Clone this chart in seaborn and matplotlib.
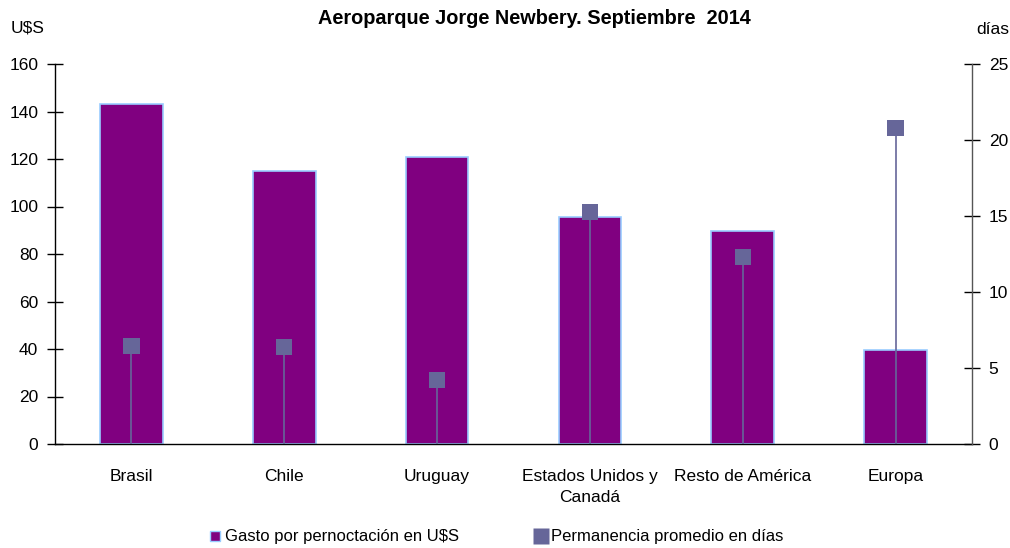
import matplotlib
matplotlib.use("Agg")
import matplotlib.pyplot as plt
import seaborn as sns
import pandas as pd
import numpy as np
from matplotlib.lines import Line2D

categories = ["Brasil", "Chile", "Uruguay", "Estados Unidos y\nCanadá", "Resto de América", "Europa"]
gasto = [143.0, 115.0, 121.0, 95.5, 89.5, 39.5]
permanencia = [6.45, 6.4, 4.2, 15.25, 12.3, 20.8]
title = "Aeroparque Jorge Newbery. Septiembre  2014"

sns.set_theme(style="white")
plt.rcParams['font.family'] = ['Liberation Sans', 'DejaVu Sans']
plt.rcParams['text.color'] = 'black'
plt.rcParams['xtick.color'] = 'black'
plt.rcParams['ytick.color'] = 'black'

df = pd.DataFrame({"cat": categories, "gasto": gasto, "perm": permanencia})

fig = plt.figure(figsize=(10.1, 5.48), dpi=100)
ax = fig.add_axes([55/1010, 1-444/548, (972-55)/1010, (444-64)/548])

sns.barplot(data=df, x="cat", y="gasto", ax=ax, color="#800080", width=0.41,
            edgecolor="#99CCFF", linewidth=1.2, saturation=1)
ax.set_ylim(0, 160)
ax.set_xlim(-0.5, len(categories)-0.5)
ax.set_yticks(np.arange(0, 161, 20))
ax.set_xlabel("")
ax.set_ylabel("")

ax2 = ax.twinx()
xs = np.arange(len(categories))
ax2.vlines(xs, 0, df["perm"], color="#666699", linewidth=1.2, zorder=2)
sns.scatterplot(x=xs, y=df["perm"], ax=ax2, marker="s", s=140, color="#666699",
                edgecolor="none", zorder=3, legend=False)
ax2.set_ylim(0, 25)
ax2.set_yticks(np.arange(0, 26, 5))
ax2.set_ylabel("")

ax.set_xticks(np.arange(-0.5, len(categories), 1.0))
ax.set_xticklabels([])
ax.set_xticks(xs, minor=True)
ax.set_xticklabels(categories, minor=True, fontsize=12.5, linespacing=1.5)
ax.tick_params(axis="x", which="minor", length=0, pad=18)
ax.tick_params(axis="x", which="major", direction="inout", length=10, width=1, color="black")
ax.tick_params(axis="y", direction="inout", length=12, width=1, labelsize=12.5, pad=6, color="black", left=True)
ax2.tick_params(axis="y", direction="inout", length=12, width=1, labelsize=12.5, pad=6, color="black", right=True)

for a in (ax, ax2):
    a.spines["top"].set_visible(False)
    for s in ("left", "right", "bottom"):
        a.spines[s].set_color("black")
        a.spines[s].set_linewidth(1)
ax.spines["right"].set_visible(False)
ax2.spines["left"].set_visible(False)
ax2.spines["bottom"].set_visible(False)
ax2.spines["right"].set_color("#555555")

fig.text(0.529, 1-18/548, title, ha="center", va="center", fontsize=14.3, fontweight="bold")
fig.text(28/1010, 1-28/548, "U$S", ha="center", va="center", fontsize=12.5)
fig.text(993/1010, 1-30/548, "días", ha="center", va="center", fontsize=12.5)

handles = [
    Line2D([], [], marker="s", linestyle="none", markersize=7, markerfacecolor="#800080",
           markeredgecolor="#99CCFF", markeredgewidth=1),
    Line2D([], [], marker="s", linestyle="none", markersize=11, markerfacecolor="#666699",
           markeredgecolor="none"),
]
fig.legend(handles, ["Gasto por pernoctación en U$S", "Permanencia promedio en días"],
           loc="center", bbox_to_anchor=(0.489, 1-537/548), ncol=2, frameon=False,
           fontsize=12, handletextpad=0.0, columnspacing=4.3, handlelength=1.2)

fig.savefig("out.png", dpi=100)
